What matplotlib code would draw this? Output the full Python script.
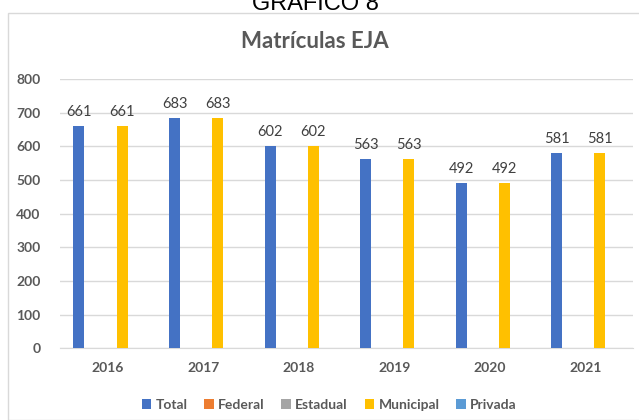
import numpy as np
import matplotlib.pyplot as plt
from matplotlib.patches import Rectangle

years = ['2016', '2017', '2018', '2019', '2020', '2021']
series = ['Total', 'Federal', 'Estadual', 'Municipal', 'Privada']
total = [661, 683, 602, 563, 492, 581]
federal = [0, 0, 0, 0, 0, 0]
estadual = [0, 0, 0, 0, 0, 0]
municipal = [661, 683, 602, 563, 492, 581]
privada = [0, 0, 0, 0, 0, 0]
colors = ['#4472C4', '#ED7D31', '#A5A5A5', '#FFC000', '#5B9BD5']
labelled = ['Total', 'Municipal']

plt.rcParams['font.family'] = ['Lato', 'DejaVu Sans']

fig = plt.figure(figsize=(6.39, 4.20), dpi=100)
ax = fig.add_axes([0.094, 0.171, 0.897, 0.641])

# chart frame
fig.patches.append(Rectangle((8 / 639, 0.0), 1.0, 1 - 13 / 420, transform=fig.transFigure,
                             fill=False, edgecolor='#D9D9D9', linewidth=1.0, zorder=0))
fig.text(0.493, 1 - 10 / 420, 'GRÁFICO 8', ha='center', va='baseline', fontsize=17,
         color='#000000', family=['Liberation Sans', 'DejaVu Sans'])

x = np.arange(len(years))
step = 0.151
width = 0.115
data = [total, federal, estadual, municipal, privada]
for i, (name, vals, c) in enumerate(zip(series, data, colors)):
    bars = ax.bar(x + (i - 2) * step, vals, width, color=c, label=name, zorder=3)
    if name in labelled:
        ax.bar_label(bars, labels=[str(v) for v in vals], padding=5, fontsize=10.5,
                     color='#404040')

ax.set_xlim(-0.5, len(years) - 0.5)
ax.set_ylim(0, 800)
ax.set_yticks(range(0, 801, 100))
ax.set_xticks(x)
ax.set_xticklabels(years)
ax.grid(axis='y', color='#D9D9D9', linewidth=1, zorder=0)
for s in ['top', 'right', 'left']:
    ax.spines[s].set_visible(False)
ax.spines['bottom'].set_color('#D9D9D9')
ax.tick_params(length=0, labelsize=10, labelcolor='#595959')
ax.tick_params(axis='x', pad=10)
ax.tick_params(axis='y', pad=14)
for t in ax.get_xticklabels() + ax.get_yticklabels():
    t.set_fontweight('bold')

fig.text(0.493, 1 - 42 / 420, 'Matrículas EJA', ha='center', va='center', fontsize=16,
         fontweight='bold', color='#595959')

leg = fig.legend(loc='center', bbox_to_anchor=(0.515, 1 - 405 / 420), ncol=5, frameon=False,
                 handlelength=0.7, handleheight=0.7, handletextpad=0.3, columnspacing=1.2,
                 prop={'size': 10, 'weight': 'bold'})
for t in leg.get_texts():
    t.set_color('#595959')

fig.savefig('out.png', dpi=100)
